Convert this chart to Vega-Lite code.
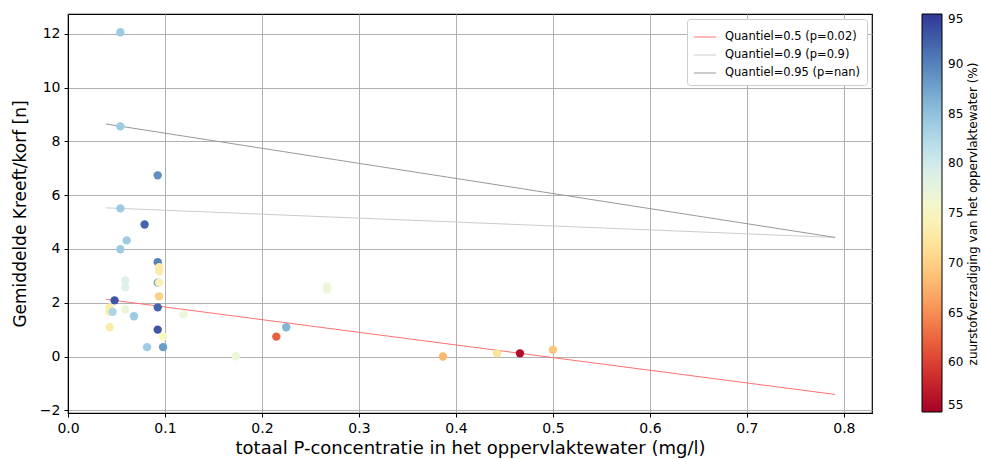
{
  "$schema": "https://vega.github.io/schema/vega-lite/v6.json",
  "width": 804,
  "height": 399,
  "autosize": {"type": "none"},
  "padding": {"left": 68, "top": 14, "right": 109, "bottom": 46},
  "background": "white",
  "config": {
    "font": "DejaVu Sans",
    "view": {"stroke": "black", "strokeWidth": 1.2},
    "axis": {
      "gridColor": "#b0b0b0",
      "gridWidth": 1,
      "gridOpacity": 1,
      "domainColor": "black",
      "tickColor": "black",
      "tickSize": 4,
      "labelColor": "black",
      "titleColor": "black",
      "titleFontWeight": "normal",
      "labelFont": "DejaVu Sans",
      "titleFont": "DejaVu Sans",
      "labelFlush": false
    }
  },
  "datasets": {
    "points": [
      {"p": 0.054, "kreeft": 12.06, "o2": 84},
      {"p": 0.054, "kreeft": 8.56, "o2": 84},
      {"p": 0.0925, "kreeft": 6.74, "o2": 89},
      {"p": 0.054, "kreeft": 5.51, "o2": 84},
      {"p": 0.079, "kreeft": 4.91, "o2": 92},
      {"p": 0.0605, "kreeft": 4.32, "o2": 84},
      {"p": 0.054, "kreeft": 3.99, "o2": 84},
      {"p": 0.0925, "kreeft": 3.51, "o2": 90},
      {"p": 0.094, "kreeft": 3.32, "o2": 73},
      {"p": 0.094, "kreeft": 3.17, "o2": 73},
      {"p": 0.059, "kreeft": 2.83, "o2": 79},
      {"p": 0.059, "kreeft": 2.58, "o2": 79},
      {"p": 0.0925, "kreeft": 2.75, "o2": 87},
      {"p": 0.094, "kreeft": 2.75, "o2": 74},
      {"p": 0.0938, "kreeft": 2.24, "o2": 70},
      {"p": 0.048, "kreeft": 2.09, "o2": 93},
      {"p": 0.043, "kreeft": 1.83, "o2": 73},
      {"p": 0.043, "kreeft": 1.66, "o2": 73},
      {"p": 0.046, "kreeft": 1.66, "o2": 83},
      {"p": 0.059, "kreeft": 1.75, "o2": 77},
      {"p": 0.0925, "kreeft": 1.83, "o2": 92},
      {"p": 0.068, "kreeft": 1.5, "o2": 84},
      {"p": 0.119, "kreeft": 1.57, "o2": 77},
      {"p": 0.043, "kreeft": 1.09, "o2": 73},
      {"p": 0.0925, "kreeft": 1.0, "o2": 93},
      {"p": 0.098, "kreeft": 0.75, "o2": 75},
      {"p": 0.0815, "kreeft": 0.35, "o2": 84},
      {"p": 0.098, "kreeft": 0.35, "o2": 88},
      {"p": 0.173, "kreeft": 0.01, "o2": 77},
      {"p": 0.267, "kreeft": 2.6, "o2": 77},
      {"p": 0.267, "kreeft": 2.5, "o2": 77},
      {"p": 0.2148, "kreeft": 0.74, "o2": 62},
      {"p": 0.225, "kreeft": 1.09, "o2": 86},
      {"p": 0.3866, "kreeft": 0.0, "o2": 68},
      {"p": 0.4423, "kreeft": 0.12, "o2": 72},
      {"p": 0.466, "kreeft": 0.12, "o2": 56},
      {"p": 0.5, "kreeft": 0.25, "o2": 69}
    ],
    "lines": [
      {"q": "Quantiel=0.5 (p=0.02)", "p": 0.039, "kreeft": 2.13},
      {"q": "Quantiel=0.5 (p=0.02)", "p": 0.791, "kreeft": -1.41},
      {"q": "Quantiel=0.9 (p=0.9)", "p": 0.039, "kreeft": 5.53},
      {"q": "Quantiel=0.9 (p=0.9)", "p": 0.791, "kreeft": 4.43},
      {"q": "Quantiel=0.95 (p=nan)", "p": 0.039, "kreeft": 8.65},
      {"q": "Quantiel=0.95 (p=nan)", "p": 0.791, "kreeft": 4.43}
    ]
  },
  "resolve": {"axis": {"y": "independent"}},
  "encoding": {
    "x": {
      "field": "p",
      "type": "quantitative",
      "scale": {"domain": [0, 0.829], "nice": false, "zero": false},
      "axis": {
        "title": "totaal P-concentratie in het oppervlaktewater (mg/l)",
        "values": [0, 0.1, 0.2, 0.3, 0.4, 0.5, 0.6, 0.7, 0.8],
        "format": ".1f",
        "labelFontSize": 14,
        "titleFontSize": 18,
        "labelPadding": 4,
        "titlePadding": 4
      }
    }
  },
  "layer": [
    {
      "encoding": {
        "y": {
          "field": "kreeft",
          "type": "quantitative",
          "scale": {"domain": [-2.1, 12.74], "nice": false, "zero": false},
          "axis": {
            "title": "Gemiddelde Kreeft/korf [n]",
            "values": [-2, 0, 2, 4, 6, 8, 10, 12],
            "format": "d",
            "labelFontSize": 14,
            "titleFontSize": 17,
            "labelPadding": 4,
            "titlePadding": 10
          }
        }
      },
      "layer": [
        {
          "data": {"name": "lines"},
          "mark": {"type": "line", "strokeWidth": 1},
          "encoding": {
            "stroke": {
              "field": "q",
              "type": "nominal",
              "scale": {
                "domain": ["Quantiel=0.5 (p=0.02)", "Quantiel=0.9 (p=0.9)", "Quantiel=0.95 (p=nan)"],
                "range": ["#ff7070", "#cccccc", "#999999"]
              },
              "legend": {
                "title": null,
                "orient": "top-right",
                "offset": 5,
                "fillColor": "white",
                "strokeColor": "#cccccc",
                "cornerRadius": 3,
                "padding": 6,
                "symbolType": "stroke",
                "symbolSize": 500,
                "symbolStrokeWidth": 1,
                "labelFontSize": 11.5,
                "labelColor": "black",
                "labelOffset": 8,
                "rowPadding": -8
              }
            }
          }
        },
        {
          "data": {"name": "points"},
          "mark": {"type": "circle", "size": 70, "opacity": 1},
          "encoding": {
            "fill": {
              "field": "o2",
              "type": "quantitative",
              "scale": {"scheme": "redyellowblue", "domain": [55, 95], "nice": false},
              "legend": {
                "title": null,
                "orient": "none",
                "legendX": 854,
                "legendY": 0,
                "padding": 0,
                "gradientLength": 398,
                "gradientThickness": 20,
                "gradientStrokeColor": "black",
                "gradientStrokeWidth": 1,
                "values": [55, 60, 65, 70, 75, 80, 85, 90, 95],
                "labelFontSize": 12,
                "labelColor": "black",
                "labelBaseline": "middle",
                "labelOffset": 6
              }
            }
          }
        }
      ]
    },
    {
      "data": {"name": "points"},
      "mark": {"type": "circle", "opacity": 0},
      "encoding": {
        "y": {
          "field": "kreeft",
          "type": "quantitative",
          "axis": {
            "orient": "right",
            "offset": 107,
            "title": "zuurstofverzadiging van het oppervlaktewater (%)",
            "titleAngle": 270,
            "titleFontSize": 12,
            "titlePadding": 0,
            "domain": false,
            "ticks": false,
            "labels": false,
            "grid": false
          }
        }
      }
    }
  ]
}
